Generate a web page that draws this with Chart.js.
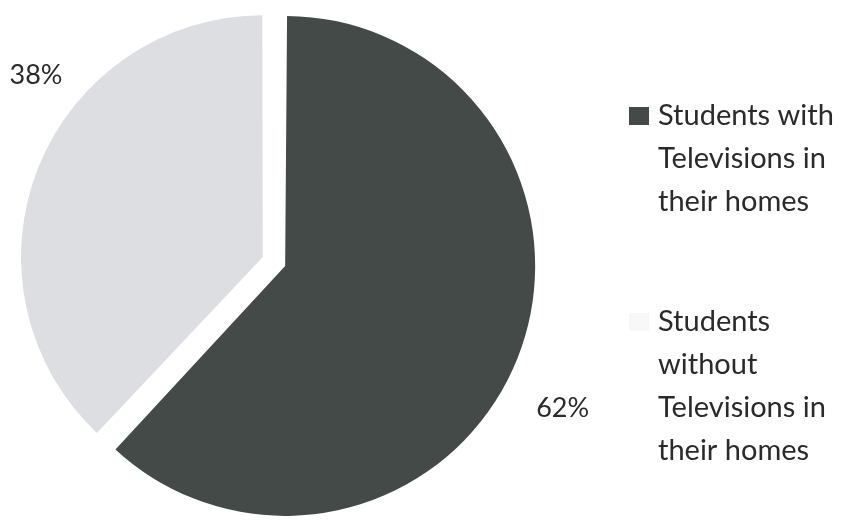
<!DOCTYPE html>
<html>
<head>
<meta charset="utf-8">
<script src="https://cdn.jsdelivr.net/npm/chart.js@4"></script>
<style>
  html, body { margin: 0; padding: 0; background: #fff; }
  #wrap { width: 852px; height: 523px; position: relative; }
</style>
</head>
<body>
<div id="wrap"><canvas id="pie"></canvas></div>
<script>
// data
const categories = [
  ["Students with", "Televisions in", "their homes"],
  ["Students", "without", "Televisions in", "their homes"],
];
const shares = [62, 38];
const sliceColors = ["#434a48", "#dddee2"];

// percent labels + multi-line legend, drawn on the canvas
const pieText = {
  id: "pieText",
  afterDraw(chart, args, opts) {
    const ctx = chart.ctx;
    const meta = chart.getDatasetMeta(0);
    const total = shares.reduce((a, b) => a + b, 0);
    ctx.save();
    ctx.fillStyle = "#2a2a2a";
    ctx.font = "27px Lato";
    ctx.textAlign = "center";
    ctx.textBaseline = "middle";
    meta.data.forEach((arc, i) => {
      const p = opts.labelPos[i];
      const a = p.angle * Math.PI / 180;
      const r = arc.outerRadius + p.dist;
      const pct = Math.round(shares[i] / total * 100) + "%";
      ctx.fillText(pct, arc.x + Math.cos(a) * r, arc.y + Math.sin(a) * r);
    });

    // legend (the pale box is almost lost in the original)
    const lg = opts.legend;
    let y = lg.top;
    ctx.font = "29px Lato";
    ctx.textAlign = "left";
    ctx.textBaseline = "alphabetic";
    categories.forEach((lines, i) => {
      ctx.globalAlpha = lg.boxAlpha[i];
      ctx.fillStyle = sliceColors[i];
      ctx.fillRect(lg.left, y - 18, 20, 18);
      ctx.globalAlpha = 1;
      ctx.fillStyle = "#2a2a2a";
      lines.forEach((t, j) => {
        ctx.fillText(t, lg.left + 29, y + j * lg.lineHeight);
      });
      y += lines.length * lg.lineHeight + lg.gap;
    });
    ctx.restore();
  },
};

new Chart(document.getElementById("pie"), {
  type: "pie",
  data: {
    labels: categories,
    datasets: [
      {
        data: shares,
        backgroundColor: sliceColors,
        borderWidth: 0,
        offset: 48,
        radius: 238,
      },
    ],
  },
  options: {
    responsive: true,
    maintainAspectRatio: false,
    animation: false,
    events: [],
    layout: { padding: { left: 0, right: 304, top: 0, bottom: 0 } },
    plugins: {
      legend: { display: false },
      tooltip: { enabled: false },
      pieText: {
        labelPos: [
          { angle: 27, dist: 86 },
          { angle: 218, dist: 64 },
        ],
        legend: { left: 629, top: 125, lineHeight: 43, gap: 77, boxAlpha: [1, 0.2] },
      },
    },
  },
  plugins: [pieText],
});
</script>
</body>
</html>
